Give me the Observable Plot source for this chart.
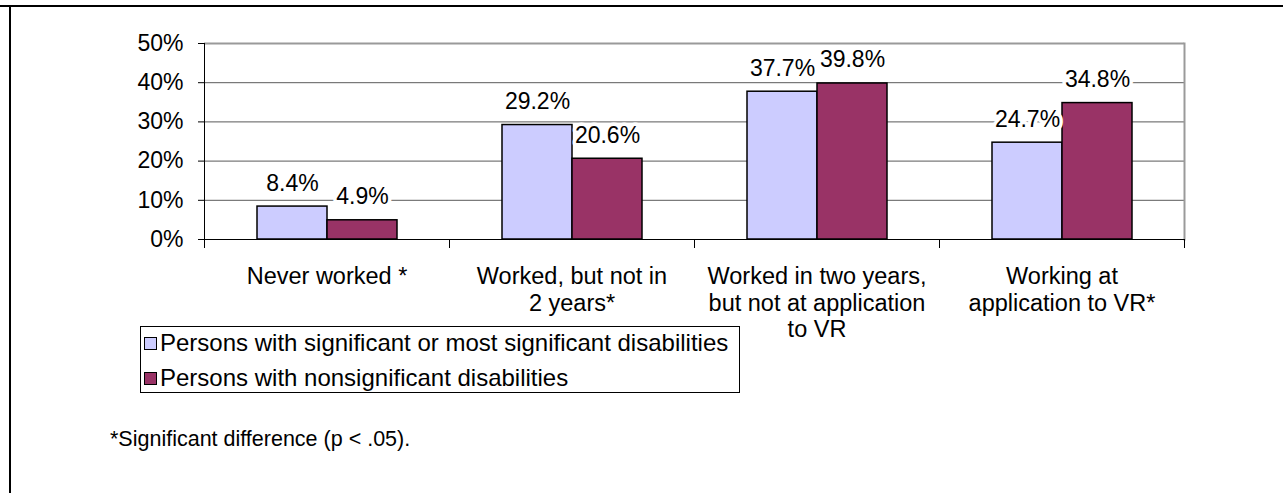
<!DOCTYPE html>
<html>
<head>
<meta charset="utf-8">
<script src="https://cdn.jsdelivr.net/npm/d3@7"></script>
<script src="https://cdn.jsdelivr.net/npm/@observablehq/plot@0.6"></script>
<style>
  html, body { margin: 0; padding: 0; background: #fff; }
  body { width: 1283px; height: 493px; overflow: hidden; position: relative; font-family: Arial, "Liberation Sans", sans-serif; }
  #chart { position: absolute; left: 0; top: 0; }
  .topline { position: absolute; left: 0; top: 5px; width: 1283px; height: 0; border-top: 2px solid #000; }
  .leftline { position: absolute; left: 9px; top: 5px; width: 0; height: 500px; border-left: 2px solid #000; }
  .legend { position: absolute; left: 140px; top: 326px; width: 600px; height: 67px; border: 1px solid #000; box-sizing: border-box; font-size: 24px; color: #000; }
  .legend .row { position: absolute; left: 3px; height: 24px; line-height: 24px; white-space: nowrap; }
  .legend .sw { display: inline-block; width: 11px; height: 11px; border: 1.5px solid #000; margin-right: 3px; vertical-align: 1px; }
  .note { position: absolute; left: 110px; top: 426px; font-size: 21.5px; line-height: 26px; color: #000; white-space: nowrap; }
</style>
</head>
<body>
<div class="topline"></div>
<div class="leftline"></div>
<div id="chart"></div>
<div class="legend" id="legend"></div>
<div class="note" id="note"></div>
<script>
const categories = [
  "Never worked *",
  "Worked, but not in\n2 years*",
  "Worked in two years,\nbut not at application\nto VR",
  "Working at\napplication to VR*"
];
const seriesNames = [
  "Persons with significant or most significant disabilities",
  "Persons with nonsignificant disabilities"
];
const significantValues = [8.4, 29.2, 37.7, 24.7];
const nonsignificantValues = [4.9, 20.6, 39.8, 34.8];
const seriesColors = ["#CCCCFF", "#993366"];
const yTicks = [0, 10, 20, 30, 40, 50];
const footnote = "*Significant difference (p < .05).";

const rows = [];
categories.forEach((c, i) => {
  rows.push({cat: c, series: seriesNames[0], value: significantValues[i]});
  rows.push({cat: c, series: seriesNames[1], value: nonsignificantValues[i]});
});

const W = 1283, H = 345, mTop = 43, mBottom = 106, mLeft = 203, mRight = 99;
const innerH = H - mTop - mBottom;
const font = "Arial, 'Liberation Sans', sans-serif";

const chart = Plot.plot({
  width: W,
  height: H,
  marginTop: mTop,
  marginBottom: mBottom,
  marginLeft: mLeft,
  marginRight: mRight,
  style: {fontFamily: font, fontSize: "23px", color: "#000", background: "transparent"},
  fx: {domain: categories, padding: 0, axis: null, label: null},
  x: {domain: seriesNames, paddingInner: 0, paddingOuter: 0.742, axis: null},
  y: {domain: [0, 50], ticks: yTicks, tickSize: 6, tickPadding: 15, tickFormat: d => d + "%", label: null},
  color: {domain: seriesNames, range: seriesColors},
  marks: [
    Plot.ruleY(yTicks.filter(t => t > 0 && t < 50), {stroke: "#5a5a5a", strokeWidth: 1}),
    Plot.ruleY([50], {stroke: "#9a9a9a", strokeWidth: 2}),
    Plot.frame({facet: "super", anchor: "right", stroke: "#9a9a9a", strokeWidth: 2}),
    Plot.barY(rows, {fx: "cat", x: "series", y: "value", fill: "series", stroke: "#000", strokeWidth: 1.5}),
    Plot.frame({facet: "super", anchor: "left", stroke: "#000", strokeWidth: 1}),
    Plot.ruleY([0], {stroke: "#000", strokeWidth: 1}),
    Plot.frame({anchor: "left", insetTop: innerH, insetBottom: -8, stroke: "#000", strokeWidth: 1}),
    Plot.frame({anchor: "right", insetTop: innerH, insetBottom: -8, stroke: "#000", strokeWidth: 1}),
    Plot.text(rows, {fx: "cat", x: "series", y: "value", text: d => d.value.toFixed(1) + "%",
      dy: -16, lineAnchor: "bottom", fontSize: 23, fill: "#000", stroke: "#fff", strokeWidth: 7, paintOrder: "stroke"}),
    Plot.text(categories, {fx: d => d, text: d => d, frameAnchor: "bottom", lineAnchor: "top",
      dy: 26, lineHeight: 1.12, fontSize: 23.5, fill: "#000"})
  ]
});
document.getElementById("chart").appendChild(chart);

const legend = document.getElementById("legend");
seriesNames.forEach((s, i) => {
  const row = document.createElement("div");
  row.className = "row";
  row.style.top = (4 + i * 35) + "px";
  const sw = document.createElement("span");
  sw.className = "sw";
  sw.style.background = seriesColors[i];
  row.appendChild(sw);
  row.appendChild(document.createTextNode(s));
  legend.appendChild(row);
});
document.getElementById("note").textContent = footnote;
</script>
</body>
</html>
